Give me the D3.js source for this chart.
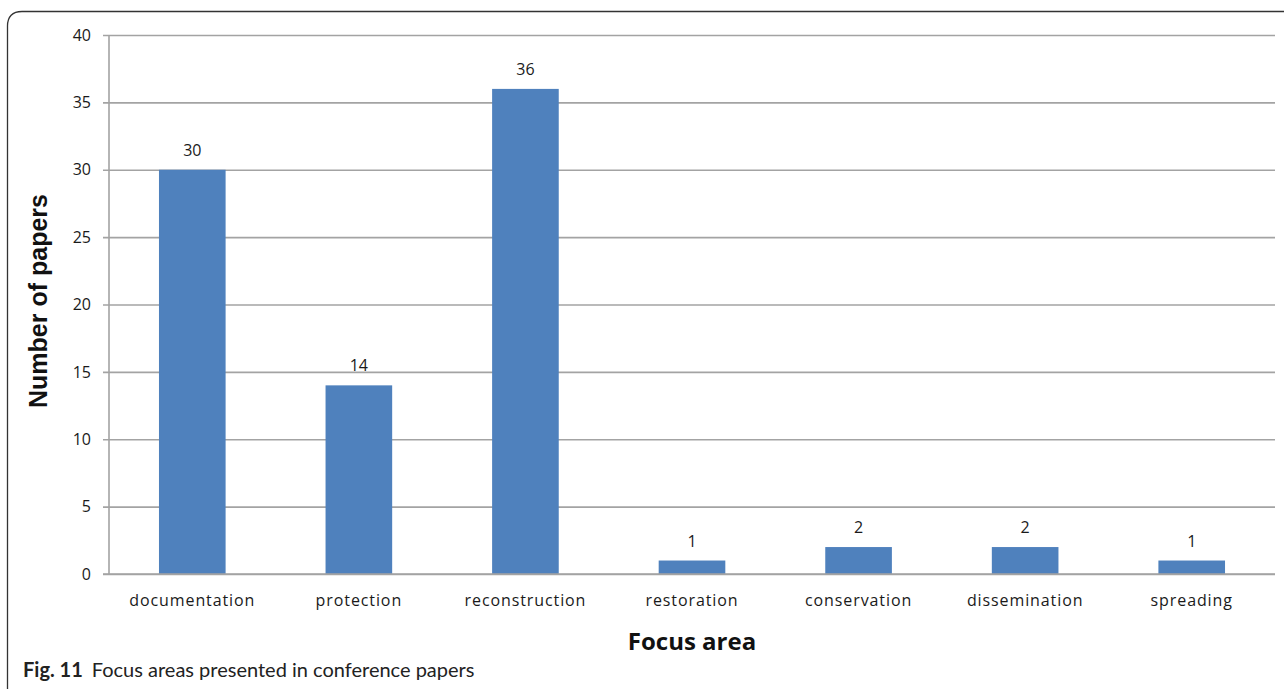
<!DOCTYPE html>
<html>
<head>
<meta charset="utf-8">
<script src="https://cdn.jsdelivr.net/npm/d3@7"></script>
<style>
  html, body { margin: 0; padding: 0; background: #fff; }
  svg { display: block; }
</style>
</head>
<body>
<svg id="chart" width="1284" height="689"></svg>
<script>
// Focus areas of conference papers and how many papers address each
const categories = ["documentation", "protection", "reconstruction", "restoration", "conservation", "dissemination", "spreading"];
const paperCounts = [30, 14, 36, 1, 2, 2, 1];
const yTicks = [0, 5, 10, 15, 20, 25, 30, 35, 40];

const svg = d3.select("#chart");
const W = 1284, H = 689;

// Figure frame: rounded top-left corner, open at the bottom/right
svg.append("path")
  .attr("d", `M7.5,${H} L7.5,26 Q7.5,11.5 22,11.5 L${W},11.5`)
  .attr("fill", "none")
  .attr("stroke", "#333")
  .attr("stroke-width", 1.3);

const plot = { left: 109, right: 1275, top: 35, bottom: 574 };

const x = d3.scaleBand()
  .domain(categories)
  .range([plot.left, plot.right])
  .paddingInner(0)
  .paddingOuter(0);

const y = d3.scaleLinear()
  .domain([0, 40])
  .range([plot.bottom, plot.top]);

const tickFont = "'Open Sans', 'Noto Sans', sans-serif";

// Horizontal gridlines with short tick stubs to the left of the axis
const yAxis = d3.axisLeft(y)
  .tickValues(yTicks)
  .tickSize(-(plot.right - plot.left))
  .tickPadding(18)
  .tickFormat(d3.format("d"));

const gy = svg.append("g")
  .attr("transform", `translate(${plot.left},0)`)
  .call(yAxis);
gy.select(".domain").remove();
gy.selectAll(".tick line")
  .attr("x1", -6)
  .attr("stroke", "#a3a3a3")
  .attr("stroke-width", 1.6);
gy.selectAll(".tick text")
  .attr("font-family", tickFont)
  .attr("font-size", 16)
  .attr("fill", "#1a1a1a");

// Vertical axis line
svg.append("line")
  .attr("x1", plot.left).attr("x2", plot.left)
  .attr("y1", plot.top).attr("y2", plot.bottom)
  .attr("stroke", "#a3a3a3")
  .attr("stroke-width", 1.6);

// Bars
const barW = x.bandwidth() * 0.4;
svg.append("g")
  .selectAll("rect")
  .data(categories)
  .join("rect")
  .attr("x", (d) => x(d) + (x.bandwidth() - barW) / 2)
  .attr("y", (d, i) => y(paperCounts[i]))
  .attr("width", barW)
  .attr("height", (d, i) => y(0) - y(paperCounts[i]))
  .attr("fill", "#4f81bd");

// Redraw the baseline over the bars
svg.append("line")
  .attr("x1", plot.left - 6).attr("x2", plot.right)
  .attr("y1", y(0)).attr("y2", y(0))
  .attr("stroke", "#a3a3a3")
  .attr("stroke-width", 1.6);

// Value labels above the bars
svg.append("g")
  .selectAll("text")
  .data(categories)
  .join("text")
  .attr("x", (d) => x(d) + x.bandwidth() / 2)
  .attr("y", (d, i) => y(paperCounts[i]) - 14)
  .attr("text-anchor", "middle")
  .attr("font-family", tickFont)
  .attr("font-size", 16)
  .attr("fill", "#1a1a1a")
  .text((d, i) => paperCounts[i]);

// Category labels
const gx = svg.append("g")
  .attr("transform", `translate(0,${plot.bottom})`)
  .call(d3.axisBottom(x).tickSize(0).tickPadding(21));
gx.select(".domain").remove();
gx.selectAll(".tick text")
  .attr("font-family", tickFont)
  .attr("font-size", 16)
  .attr("letter-spacing", "0.9px")
  .attr("fill", "#1a1a1a");

// Axis titles
svg.append("text")
  .attr("x", (plot.left + plot.right) / 2)
  .attr("y", 650)
  .attr("text-anchor", "middle")
  .attr("font-family", "'Open Sans', sans-serif")
  .attr("font-weight", "bold")
  .attr("font-size", 24)
  .attr("fill", "#111")
  .text("Focus area");

svg.append("text")
  .attr("transform", `translate(47,301) rotate(-90)`)
  .attr("text-anchor", "middle")
  .attr("font-family", "'Liberation Sans', Arial, sans-serif")
  .attr("font-weight", "bold")
  .attr("font-size", 25)
  .attr("fill", "#111")
  .text("Number of papers");

// Figure caption
const cap = svg.append("text")
  .attr("x", 23)
  .attr("y", 677)
  .attr("font-family", "Lato, 'Open Sans', sans-serif")
  .attr("font-size", 20)
  .attr("fill", "#222");
cap.append("tspan").attr("font-weight", "bold").text("Fig. 11");
cap.append("tspan").attr("dx", 9).text("Focus areas presented in conference papers");
</script>
</body>
</html>
